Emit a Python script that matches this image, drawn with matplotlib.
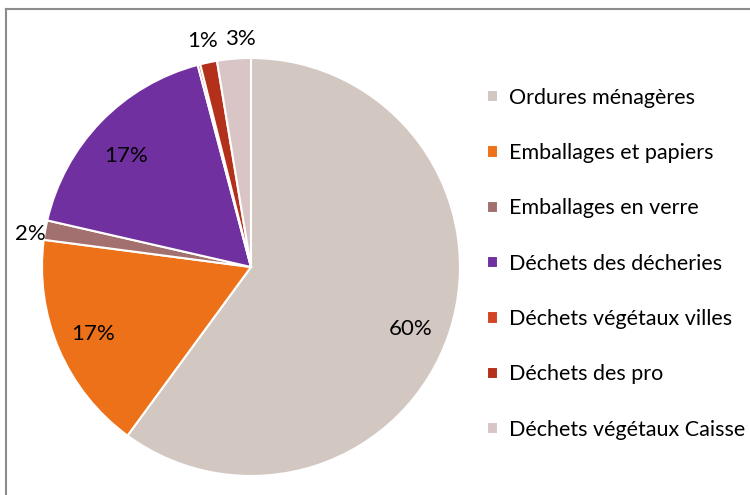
import numpy as np
import matplotlib
matplotlib.use("Agg")
import matplotlib.pyplot as plt
from matplotlib.lines import Line2D

categories = ["Ordures ménagères", "Emballages et papiers", "Emballages en verre",
              "Déchets des décheries", "Déchets végétaux villes", "Déchets des pro",
              "Déchets végétaux Caisse"]
values = [60.0, 17.0, 1.5, 17.3, 0.2, 1.3, 2.6]
pct_labels = ["60%", "17%", "2%", "17%", "", "1%", "3%"]
colors = ["#D2C7C1", "#EC7118", "#A2706E", "#7030A0", "#D24424", "#B3301A", "#D9C5C6"]

plt.rcParams['font.family'] = ['Lato', 'DejaVu Sans']

fig = plt.figure(figsize=(7.5, 4.95), dpi=100)
ax = fig.add_axes([0.056, 0.0384, 0.5573, 0.8444])

wedges, _ = ax.pie(values, colors=colors, startangle=90, counterclock=False,
                   wedgeprops=dict(edgecolor="white", linewidth=1.5))
ax.set_xlim(-1, 1)
ax.set_ylim(-1, 1)
ax.set_aspect("equal")

# label distance from centre + small nudges (points) like the original layout
dists = [0.81, 0.82, 1.08, 0.82, 1.1, 1.11, 1.1]
nudges = [(-1, -7), (0, 0), (1, -5), (-1, -6), (0, 0), (-1, -1), (6, -1)]
for w, lab, d, nd in zip(wedges, pct_labels, dists, nudges):
    if not lab:
        continue
    ang = np.deg2rad((w.theta1 + w.theta2) / 2)
    ax.annotate(lab, (d * np.cos(ang), d * np.sin(ang)), xytext=nd,
                textcoords="offset points", ha="center", va="center",
                fontsize=16, color="black", annotation_clip=False)

fig.legend(wedges, categories, loc="upper left", bbox_to_anchor=(0.638, 0.84),
           frameon=False, fontsize=15.5, handlelength=0.5, handleheight=0.5,
           handletextpad=0.5, labelspacing=1.64, borderaxespad=0)

# chart area border (partially cropped in the original)
fig.add_artist(Line2D([6 / 750, 1], [1 - 9 / 495, 1 - 9 / 495], color="#8C8C8C", lw=1.5))
fig.add_artist(Line2D([6 / 750, 6 / 750], [0, 1 - 9 / 495], color="#8C8C8C", lw=1.5))

fig.savefig("out.png", dpi=100)
